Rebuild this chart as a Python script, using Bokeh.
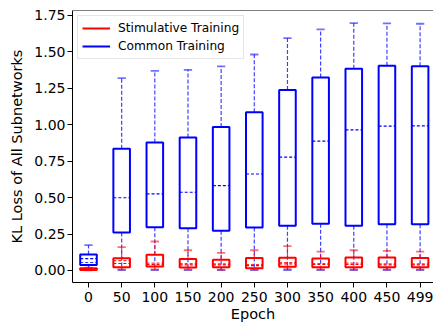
import numpy as np
from bokeh.plotting import figure
from bokeh.models import FixedTicker, NumeralTickFormatter, Legend, LegendItem, Range1d, Span
from bokeh.embed import file_html
from bokeh.resources import INLINE

epochs = ["0", "50", "100", "150", "200", "250", "300", "350", "400", "450", "499"]

# Common Training (blue)
common_lo = [0.002, 0.003, 0.003, 0.003, 0.002, 0.003, 0.003, 0.003, 0.002, 0.003, 0.003]
common_q1 = [0.037, 0.26, 0.297, 0.29, 0.272, 0.295, 0.307, 0.32, 0.307, 0.318, 0.318]
common_med = [0.082, 0.499, 0.526, 0.537, 0.583, 0.662, 0.778, 0.888, 0.965, 0.99, 0.993]
common_q3 = [0.11, 0.835, 0.878, 0.913, 0.984, 1.085, 1.238, 1.325, 1.384, 1.405, 1.402]
common_hi = [0.174, 1.32, 1.37, 1.377, 1.40, 1.482, 1.594, 1.654, 1.697, 1.695, 1.693]
common_mean = [0.055, None, None, None, None, None, None, None, None, None, None]

# Stimulative Training (red)
stim_lo = [0.001, 0.008, 0.008, 0.008, 0.006, 0.008, 0.009, 0.008, 0.008, 0.008, 0.008]
stim_q1 = [0.004, 0.023, 0.027, 0.021, 0.023, 0.016, 0.025, 0.023, 0.023, 0.023, 0.023]
stim_med = [0.010, 0.048, 0.041, 0.039, 0.039, 0.034, 0.046, 0.041, 0.041, 0.039, 0.039]
stim_mean = [0.011, 0.068, 0.050, 0.047, 0.046, 0.040, 0.055, 0.048, 0.050, 0.046, 0.045]
stim_q3 = [0.016, 0.084, 0.108, 0.078, 0.073, 0.085, 0.087, 0.082, 0.089, 0.089, 0.085]
stim_hi = [0.02, 0.16, 0.199, 0.139, 0.121, 0.139, 0.167, 0.130, 0.139, 0.135, 0.130]

FONT = "DejaVu Sans"
Y0, Y1 = -0.0824, 1.784

p = figure(width=433, height=325, output_backend="svg", toolbar_location=None,
           x_range=Range1d(-0.4825, 10.404), y_range=Range1d(Y0, Y1),
           min_border_left=72, min_border_right=0, min_border_top=10, min_border_bottom=43)
p.outline_line_color = None
p.xgrid.visible = False
p.ygrid.visible = False
p.background_fill_color = "white"

x = np.arange(len(epochs))
bw = 0.5
cw = 0.25


def draw(lo, q1, med, mean, q3, hi, color):
    lo = np.array(lo, float); q1 = np.array(q1, float); med = np.array(med, float)
    q3 = np.array(q3, float); hi = np.array(hi, float)
    # whiskers
    p.segment(x, q3, x, hi, line_color=color, line_dash="4 2", line_width=1.2, line_alpha=0.75)
    p.segment(x, q1, x, lo, line_color=color, line_dash="4 2", line_width=1.2, line_alpha=0.75)
    # caps
    p.segment(x - cw / 2, hi, x + cw / 2, hi, line_color=color, line_width=1.8, line_alpha=0.55)
    p.segment(x - cw / 2, lo, x + cw / 2, lo, line_color=color, line_width=1.8, line_alpha=0.55)
    # boxes
    p.quad(left=x - bw / 2, right=x + bw / 2, bottom=q1, top=q3, fill_color=None,
           line_color=color, line_width=2)
    # medians
    p.segment(x - bw / 2, med, x + bw / 2, med, line_color=color, line_dash="3 2", line_width=1.2)
    mv = np.array([np.nan if m is None else m for m in mean], float)
    ok = ~np.isnan(mv)
    p.segment(x[ok] - bw / 2, mv[ok], x[ok] + bw / 2, mv[ok], line_color=color,
              line_dash="3 2", line_width=1.2, line_alpha=0.8)


draw(common_lo, common_q1, common_med, common_mean, common_q3, common_hi, "#0000ff")
draw(stim_lo, stim_q1, stim_med, stim_mean, stim_q3, stim_hi, "#ff0000")

# top spine
p.add_layout(Span(location=Y1, dimension="width", line_color="black", line_width=1))

# legend (renderers carry no visible points; only their style is used by the legend)
r_stim = p.line(x=[0], y=[np.nan], line_color="#ff0000", line_width=2)
r_comm = p.line(x=[0], y=[np.nan], line_color="#0000ff", line_width=2)
legend = Legend(items=[LegendItem(label="Stimulative Training", renderers=[r_stim]),
                       LegendItem(label="Common Training", renderers=[r_comm])],
                location="top_left")
legend.margin = 5
legend.padding = 4
legend.spacing = 2
legend.label_standoff = 8
legend.glyph_width = 28
legend.glyph_height = 16
legend.label_height = 16
legend.label_text_font = FONT
legend.label_text_font_size = "12.2px"
legend.label_text_color = "black"
legend.border_line_color = "#cccccc"
legend.border_line_width = 1
legend.background_fill_alpha = 0.8
p.add_layout(legend)

# axes
p.xaxis.ticker = FixedTicker(ticks=list(range(len(epochs))))
p.xaxis.major_label_overrides = {i: e for i, e in enumerate(epochs)}
p.yaxis.ticker = FixedTicker(ticks=[0, 0.25, 0.5, 0.75, 1.0, 1.25, 1.5, 1.75])
p.yaxis.formatter = NumeralTickFormatter(format="0.00")
p.xaxis.axis_label = "Epoch"
p.yaxis.axis_label = "KL Loss of All Subnetworks"
for ax in (p.xaxis, p.yaxis):
    ax.axis_line_color = "black"
    ax.axis_line_width = 1
    ax.major_tick_line_color = "black"
    ax.major_tick_line_width = 1
    ax.major_tick_out = 5
    ax.major_tick_in = 0
    ax.minor_tick_line_color = None
    ax.major_label_text_font = FONT
    ax.major_label_text_font_size = "14px"
    ax.major_label_text_color = "black"
    ax.axis_label_text_font = FONT
    ax.axis_label_text_font_size = "14.5px"
    ax.axis_label_text_font_style = "normal"
    ax.axis_label_text_color = "black"
p.xaxis.major_label_standoff = 4
p.xaxis.axis_label_standoff = 1
p.yaxis.major_label_standoff = 2
p.yaxis.axis_label_standoff = 6

open("out.html", "w").write(file_html(p, INLINE))
